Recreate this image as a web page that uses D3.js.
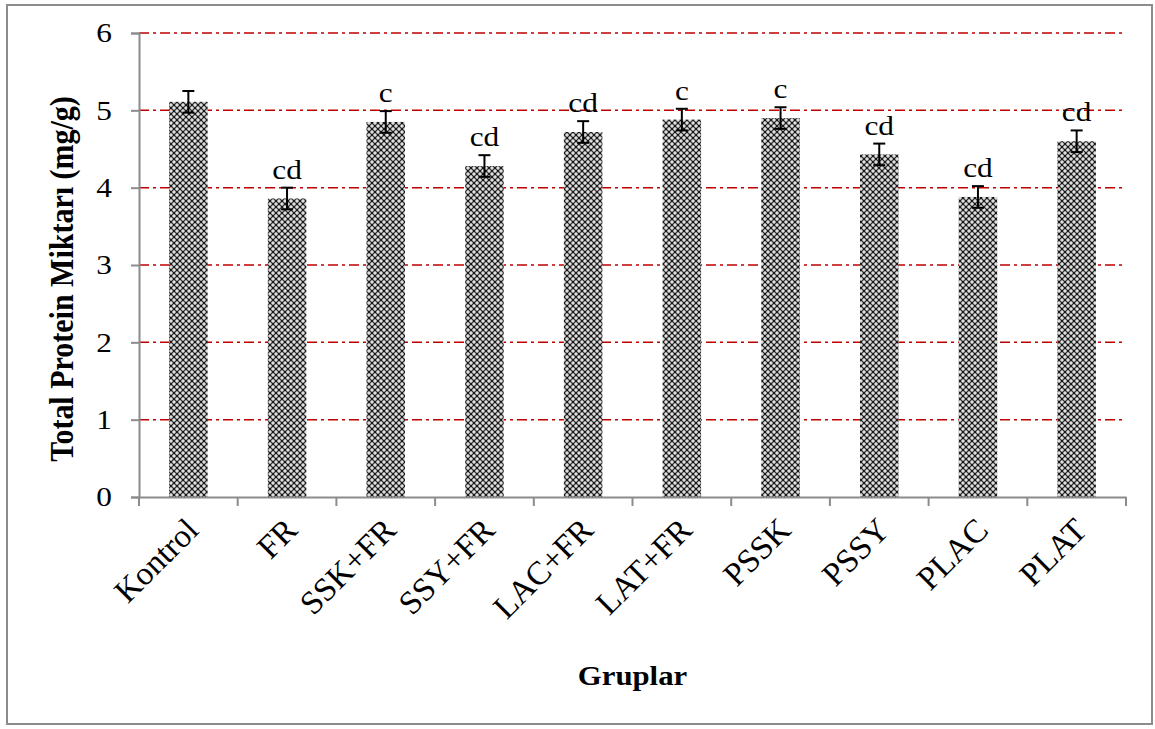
<!DOCTYPE html>
<html>
<head>
<meta charset="utf-8">
<script src="https://cdn.jsdelivr.net/npm/d3@7"></script>
<style>
  html, body { margin: 0; padding: 0; background: #fff; }
  svg { display: block; }
</style>
</head>
<body>
<svg id="chart" width="1155" height="729"></svg>
<script>
const categories = ["Kontrol", "FR", "SSK+FR", "SSY+FR", "LAC+FR", "LAT+FR", "PSSK", "PSSY", "PLAC", "PLAT"];
const values = [5.11, 3.86, 4.85, 4.28, 4.72, 4.88, 4.90, 4.43, 3.88, 4.60];
const errors = [0.14, 0.14, 0.14, 0.14, 0.14, 0.14, 0.14, 0.14, 0.14, 0.14];
const letters = ["", "cd", "c", "cd", "cd", "c", "c", "cd", "cd", "cd"];
const yTicks = [0, 1, 2, 3, 4, 5, 6];
const yTitle = "Total Protein Miktarı (mg/g)";
const xTitle = "Gruplar";

const svg = d3.select("#chart");
const L = 139, R = 1126, T = 33, B = 497;
const font = "'Liberation Serif', 'Times New Roman', serif";
const SX = 1.12; // horizontal stretch of the text in the original picture

// outer border
svg.append("rect").attr("x", 7).attr("y", 5).attr("width", 1145).attr("height", 719)
  .attr("fill", "#fff").attr("stroke", "#8c8c8c").attr("stroke-width", 2);

// pattern
const defs = svg.append("defs");
const pat = defs.append("pattern").attr("id", "pat").attr("patternUnits", "userSpaceOnUse")
  .attr("width", 6).attr("height", 6);
pat.append("rect").attr("width", 6).attr("height", 6).attr("fill", "#363636");
[[0,0],[6,0],[0,6],[6,6],[3,3]].forEach(([cx, cy]) => {
  pat.append("rect").attr("x", cx - 0.6).attr("y", cy - 1.8).attr("width", 1.2).attr("height", 3.6).attr("fill", "#fff");
  pat.append("rect").attr("x", cx - 1.8).attr("y", cy - 0.6).attr("width", 3.6).attr("height", 1.2).attr("fill", "#fff");
});
[[3,0],[0,3],[6,3],[3,6]].forEach(([cx, cy]) => {
  pat.append("circle").attr("cx", cx).attr("cy", cy).attr("r", 1.1).attr("fill", "#111");
});

const x = d3.scaleBand().domain(categories).range([L, R]).paddingInner(0).paddingOuter(0);
const y = d3.scaleLinear().domain([0, 6]).range([B, T]);
const bw = x.bandwidth() * 0.39;

// gridlines
svg.append("g").selectAll("line").data(yTicks.filter(d => d > 0)).join("line")
  .attr("x1", L).attr("x2", R).attr("y1", d => y(d)).attr("y2", d => y(d))
  .attr("stroke", "#c00000").attr("stroke-width", 1.5).attr("stroke-dasharray", "10,4,3,4");

// bars
svg.append("g").selectAll("rect").data(categories).join("rect")
  .attr("x", (d) => x(d) + x.bandwidth() / 2 - bw / 2)
  .attr("y", (d, i) => y(values[i]))
  .attr("width", bw)
  .attr("height", (d, i) => y(0) - y(values[i]))
  .attr("fill", "url(#pat)");

// error bars
const eg = svg.append("g").attr("stroke", "#000").attr("stroke-width", 2);
categories.forEach((c, i) => {
  const cx = x(c) + x.bandwidth() / 2;
  const y1 = y(values[i] + errors[i]), y2 = y(values[i] - errors[i]);
  eg.append("line").attr("x1", cx).attr("x2", cx).attr("y1", y1).attr("y2", y2);
  eg.append("line").attr("x1", cx - 6).attr("x2", cx + 6).attr("y1", y1).attr("y2", y1);
  eg.append("line").attr("x1", cx - 6).attr("x2", cx + 6).attr("y1", y2).attr("y2", y2);
});

// letters
svg.append("g").selectAll("text").data(categories).join("text")
  .attr("transform", (d, i) => `translate(${x(d) + x.bandwidth() / 2},${y(values[i] + errors[i]) - 9}) scale(${SX},1)`)
  .attr("text-anchor", "middle")
  .attr("font-family", font).attr("font-size", 28).attr("fill", "#000")
  .text((d, i) => letters[i]);

// y axis
const yAxis = svg.append("g").attr("transform", `translate(${L},0)`)
  .call(d3.axisLeft(y).tickValues(yTicks).tickSize(8).tickPadding(19).tickFormat(d3.format("d")));
yAxis.select(".domain").attr("stroke", "#8c8c8c").attr("stroke-width", 2);
yAxis.selectAll(".tick line").attr("stroke", "#8c8c8c").attr("stroke-width", 2);
yAxis.selectAll(".tick text")
  .attr("font-family", font).attr("font-size", 28).attr("fill", "#000")
  .attr("transform", function() { const xx = +d3.select(this).attr("x"); return `translate(${xx},0) scale(${SX},1) translate(${-xx},0)`; });

// x axis
const xAxis = svg.append("g").attr("transform", `translate(0,${B})`)
  .call(d3.axisBottom(x).tickSize(0).tickFormat(""));
xAxis.select(".domain").attr("stroke", "#8c8c8c").attr("stroke-width", 2);
const bounds = categories.map(c => x(c)).concat([R]);
xAxis.selectAll(".btick").data(bounds).join("line").attr("class", "btick")
  .attr("x1", d => d).attr("x2", d => d).attr("y1", 0).attr("y2", 9)
  .attr("stroke", "#8c8c8c").attr("stroke-width", 2);

svg.append("g").selectAll("text").data(categories).join("text")
  .attr("transform", d => `translate(${x(d) + x.bandwidth() / 2 + 12},${B + 35}) rotate(-45)`)
  .attr("text-anchor", "end")
  .attr("font-family", font).attr("font-size", 33).attr("fill", "#000")
  .text(d => d);

// titles
svg.append("text").attr("transform", `translate(${(L + R) / 2},685) scale(${SX},1)`)
  .attr("text-anchor", "middle").attr("font-family", font).attr("font-weight", "bold")
  .attr("font-size", 27.5).attr("fill", "#000").text(xTitle);
svg.append("text").attr("transform", `translate(73,${(T + B) / 2 + 14}) scale(${SX},1) rotate(-90)`)
  .attr("text-anchor", "middle").attr("font-family", font).attr("font-weight", "bold")
  .attr("font-size", 30).attr("fill", "#000").text(yTitle);
</script>
</body>
</html>
